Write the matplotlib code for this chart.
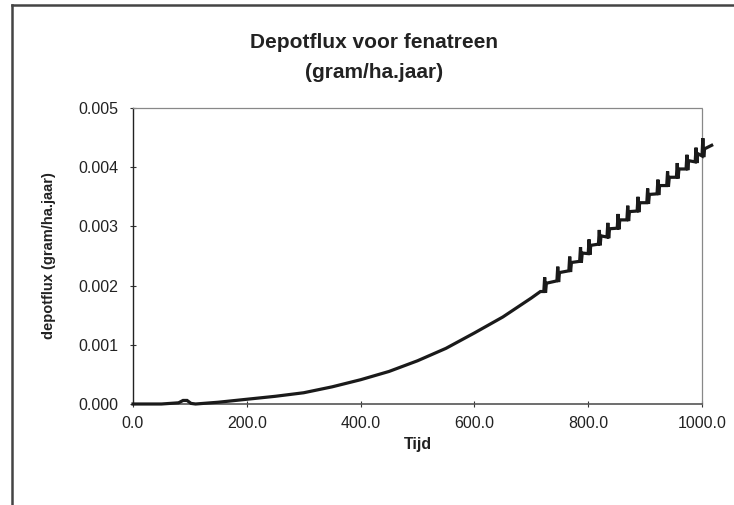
import matplotlib
matplotlib.use("Agg")
import matplotlib.pyplot as plt
from matplotlib.lines import Line2D

plt.rcParams['font.family'] = ['Liberation Sans', 'DejaVu Sans']

# smooth part of the curve
t_smooth = [0, 50, 80, 88, 95, 102, 110, 150, 200, 250, 300, 350, 400, 450, 500,
            550, 600, 650, 700, 716]
y_smooth = [0.0, 0.0, 0.00002, 0.00006, 0.00006, 0.00001, 0.0, 0.00003, 0.00008,
            0.00013, 0.00019, 0.00029, 0.00041, 0.00055, 0.00073, 0.00094,
            0.00120, 0.00147, 0.00179, 0.00190]

# stair-stepped, oscillating part of the curve
t_osc = [722, 723.5, 725, 726.5,
         745, 746.5, 748, 749.5,
         766, 767.5, 769, 770.5,
         785, 786.5, 788, 789.5,
         800, 801.5, 803, 804.5,
         818, 819.5, 821, 822.5,
         833, 834.5, 836, 837.5,
         851, 852.5, 854, 855.5,
         868, 869.5, 871, 872.5,
         886, 887.5, 889, 890.5,
         903, 904.5, 906, 907.5,
         921, 922.5, 924, 925.5,
         938, 939.5, 941, 942.5,
         955, 956.5, 958, 959.5,
         972, 973.5, 975, 976.5,
         988, 989.5, 991, 992.5,
         1000, 1001.5, 1003, 1004.5,
         1017]
y_osc = [0.00190, 0.00214, 0.00188, 0.00204,
         0.00208, 0.00232, 0.00206, 0.00222,
         0.00225, 0.00249, 0.00223, 0.00239,
         0.00241, 0.00265, 0.00239, 0.00255,
         0.00254, 0.00278, 0.00252, 0.00268,
         0.00270, 0.00294, 0.00268, 0.00284,
         0.00282, 0.00306, 0.00280, 0.00296,
         0.00297, 0.00321, 0.00295, 0.00311,
         0.00311, 0.00335, 0.00309, 0.00325,
         0.00326, 0.00350, 0.00324, 0.00340,
         0.00340, 0.00364, 0.00338, 0.00354,
         0.00355, 0.00379, 0.00353, 0.00369,
         0.00369, 0.00393, 0.00367, 0.00383,
         0.00383, 0.00407, 0.00381, 0.00397,
         0.00397, 0.00421, 0.00395, 0.00411,
         0.00409, 0.00433, 0.00407, 0.00423,
         0.00419, 0.00449, 0.00417, 0.00431,
         0.00437]

x_ticks = [0, 200, 400, 600, 800, 1000]
x_ticklabels = ["0.0", "200.0", "400.0", "600.0", "800.0", "1000.0"]
y_ticks = [0.0, 0.001, 0.002, 0.003, 0.004, 0.005]
y_ticklabels = ["0.000", "0.001", "0.002", "0.003", "0.004", "0.005"]

fig = plt.figure(figsize=(7.34, 5.05), dpi=100)
ax = fig.add_axes([133/734, 1-404/505, (702-133)/734, (404-108)/505])

ax.plot(t_smooth + t_osc, y_smooth + y_osc, color='#1a1a1a', lw=2.3,
        solid_joinstyle='miter', clip_on=False, zorder=3)

ax.set_xlim(0, 1000)
ax.set_ylim(0, 0.005)
ax.set_xticks(x_ticks)
ax.set_xticklabels(x_ticklabels)
ax.set_yticks(y_ticks)
ax.set_yticklabels(y_ticklabels)
ax.tick_params(axis='both', direction='inout', length=5, width=0.8,
               colors='#333333', labelsize=11.5, labelcolor='#222222')
ax.tick_params(axis='x', pad=6)
ax.tick_params(axis='y', pad=8)

for side in ['top', 'right']:
    ax.spines[side].set_color('#888888')
    ax.spines[side].set_linestyle((0, (2, 1)))
    ax.spines[side].set_linewidth(0.9)
ax.spines['left'].set_color('#222222')
ax.spines['left'].set_linewidth(1.0)
ax.spines['bottom'].set_color('#555555')
ax.spines['bottom'].set_linewidth(1.2)

ax.set_xlabel("Tijd", fontsize=11.5, fontweight='bold', color='#222222')
ax.xaxis.set_label_coords((418-133)/569, -(437-404)/296)
ax.set_ylabel("depotflux (gram/ha.jaar)", fontsize=10.5, fontweight='bold',
              color='#222222')
ax.yaxis.set_label_coords((56-133)/569, 0.5)

fig.text(374/734, 1-43/505, "Depotflux voor fenatreen", ha='center', va='center',
         fontsize=15, fontweight='bold', color='#222222')
fig.text(374/734, 1-72/505, "(gram/ha.jaar)", ha='center', va='center',
         fontsize=15, fontweight='bold', color='#222222')

# outer chart frame
fig.add_artist(Line2D([12/734, 1.0], [1-5/505, 1-5/505], transform=fig.transFigure,
                      color='#444444', lw=1.8))
fig.add_artist(Line2D([12/734, 12/734], [1-5/505, 0.0], transform=fig.transFigure,
                      color='#444444', lw=1.8))

fig.savefig("out.png", dpi=100, facecolor='white')
